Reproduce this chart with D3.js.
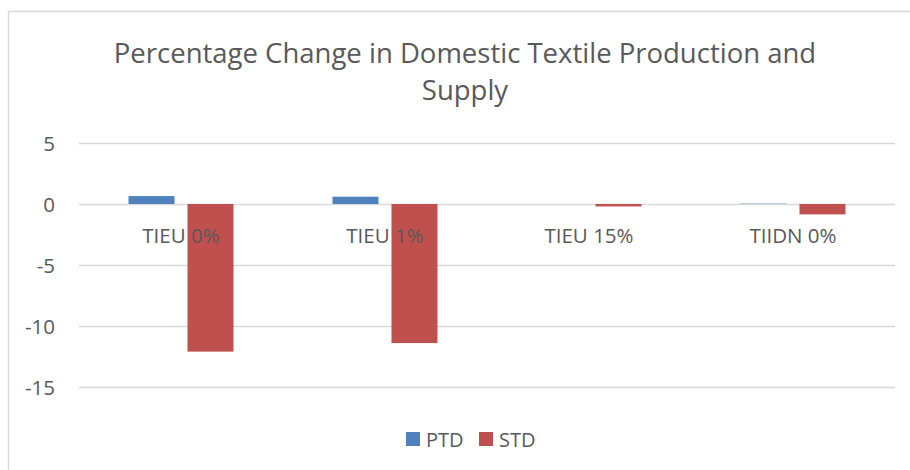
<!DOCTYPE html>
<html>
<head>
<meta charset="utf-8">
<script src="https://cdn.jsdelivr.net/npm/d3@7"></script>
<style>
  body { margin: 0; background: #fff; }
  svg { display: block; font-family: "Open Sans", sans-serif; }
</style>
</head>
<body>
<svg id="chart"></svg>
<script>
// chart data
const categories = ["TIEU 0%", "TIEU 1%", "TIEU 15%", "TIIDN 0%"];
const ptd = [0.65, 0.6, 0.0, 0.03];
const std = [-12.1, -11.4, -0.2, -0.85];
const seriesNames = ["PTD", "STD"];
const yTicks = [5, 0, -5, -10, -15];
const titleLines = ["Percentage Change in Domestic Textile Production and", "Supply"];

const colors = { PTD: "#4f81bd", STD: "#c0504d" };
const textColor = "#595959";

const width = 910;
const height = 470;
const margin = { top: 143, right: 15, bottom: 83, left: 79 };

const svg = d3.select("#chart").attr("width", width).attr("height", height);

// chart area border (only left + top visible in crop)
svg.append("path")
  .attr("d", `M8.5,${height} V11.5 H${width}`)
  .attr("fill", "none")
  .attr("stroke", "#d9d9d9")
  .attr("stroke-width", 1.5);

const scaleY = d3.scaleLinear()
  .domain([-15, 5])
  .range([height - margin.bottom, margin.top]);

const scaleX = d3.scaleBand()
  .domain(categories)
  .range([margin.left, width - margin.right]);

const scaleSeries = d3.scaleBand()
  .domain(seriesNames)
  .range([0, scaleX.bandwidth()])
  .paddingInner(0.22)
  .paddingOuter(0.84);

// gridlines + y labels
const yAxis = d3.axisLeft(scaleY)
  .tickValues(yTicks)
  .tickSize(-(width - margin.left - margin.right))
  .tickPadding(24)
  .tickFormat(d => String(d));

svg.append("g")
  .attr("transform", `translate(${margin.left},0)`)
  .call(yAxis)
  .call(g => g.select(".domain").remove())
  .call(g => g.selectAll(".tick line")
    .attr("stroke", "#d9d9d9")
    .attr("stroke-width", 1.5))
  .call(g => g.selectAll(".tick text")
    .attr("fill", textColor)
    .attr("dy", "0.36em")
    .style("font-size", "20.5px")
    .style("font-family", "'Open Sans', sans-serif"));

const rows = categories.map((c, i) => ({ cat: c, PTD: ptd[i], STD: std[i] }));

// bars
svg.append("g")
  .selectAll("g")
  .data(rows)
  .join("g")
  .attr("transform", d => `translate(${scaleX(d.cat)},0)`)
  .selectAll("rect")
  .data(d => seriesNames.map(k => ({ key: k, value: d[k] })))
  .join("rect")
  .attr("x", d => scaleSeries(d.key))
  .attr("width", scaleSeries.bandwidth())
  .attr("y", d => scaleY(Math.max(0, d.value)))
  .attr("height", d => Math.abs(scaleY(d.value) - scaleY(0)))
  .attr("fill", d => colors[d.key]);

// category labels sit under the zero line, drawn over the bars
svg.append("g")
  .selectAll("text")
  .data(categories)
  .join("text")
  .attr("x", d => scaleX(d) + scaleX.bandwidth() / 2)
  .attr("y", scaleY(0) + 39)
  .attr("text-anchor", "middle")
  .attr("fill", textColor)
  .style("font-size", "20.5px")
  .text(d => d);

// title
svg.append("g")
  .selectAll("text")
  .data(titleLines)
  .join("text")
  .attr("x", 465)
  .attr("y", (d, i) => 63 + i * 37)
  .attr("text-anchor", "middle")
  .attr("fill", textColor)
  .style("font-size", "27.5px")
  .text(d => d);

// legend
const legendX = [406, 479];
const legend = svg.append("g")
  .selectAll("g")
  .data(seriesNames)
  .join("g")
  .attr("transform", (d, i) => `translate(${legendX[i]},432)`);

legend.append("rect")
  .attr("width", 14)
  .attr("height", 14)
  .attr("fill", d => colors[d]);

legend.append("text")
  .attr("x", 20)
  .attr("y", 14.5)
  .attr("fill", textColor)
  .style("font-size", "20px")
  .text(d => d);
</script>
</body>
</html>
